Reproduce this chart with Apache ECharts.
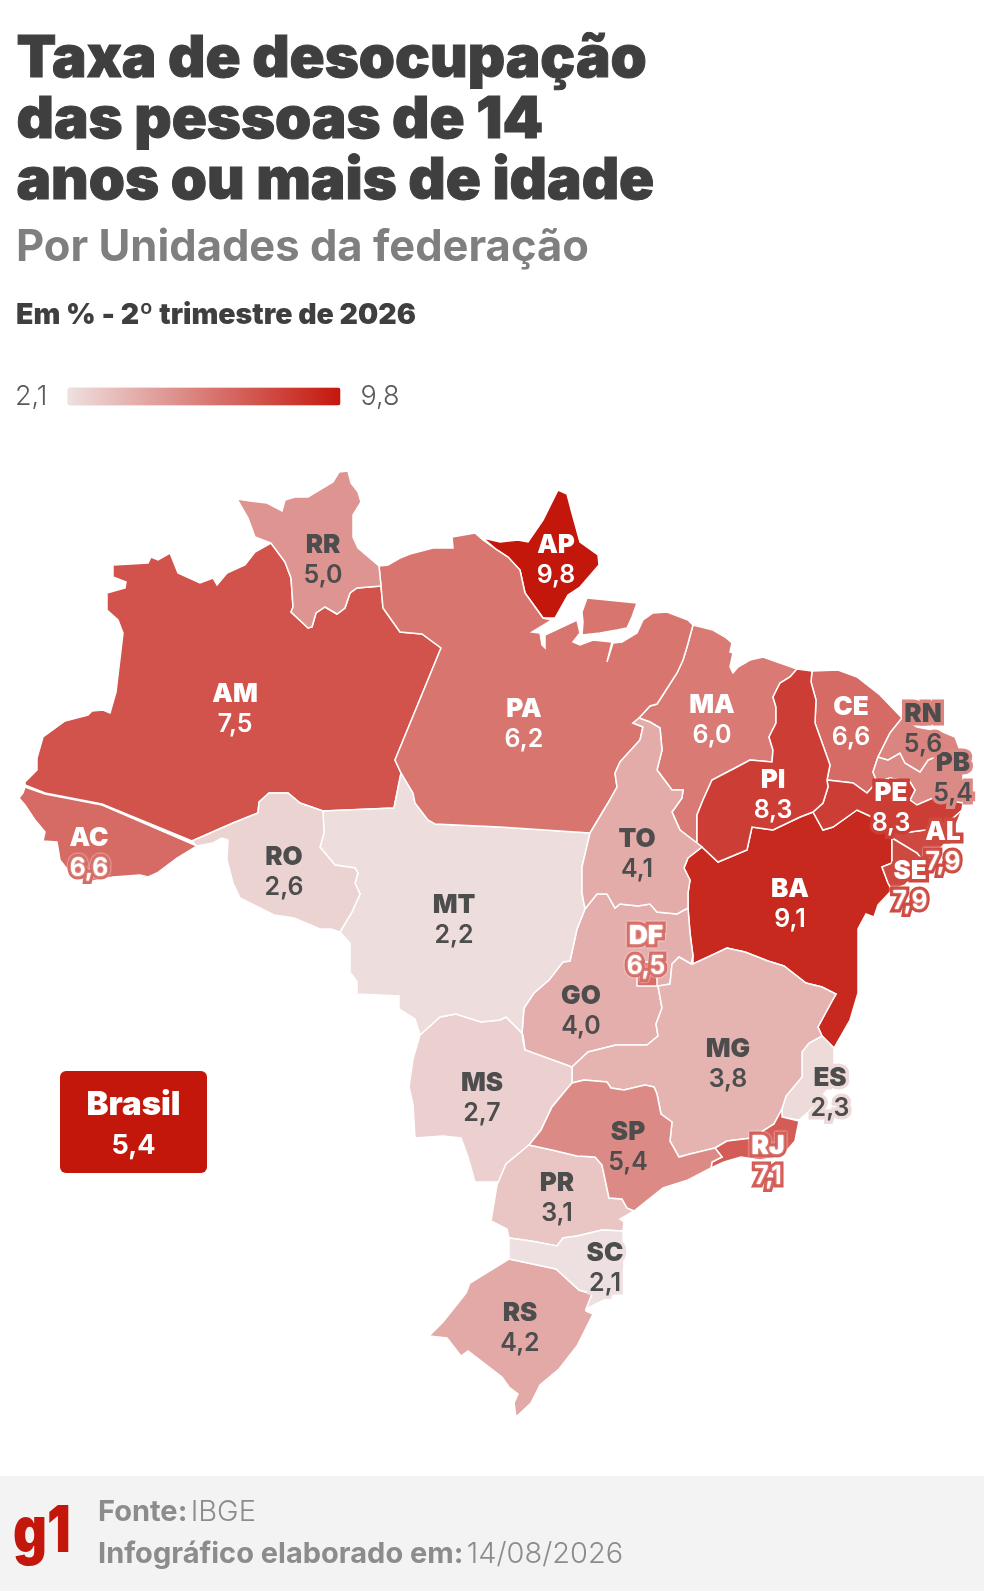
<!DOCTYPE html>
<html>
<head>
<meta charset="utf-8">
<title>Taxa de desocupação</title>
<script src="https://cdn.jsdelivr.net/npm/echarts@6/dist/echarts.min.js"></script>
<style>
html, body { margin: 0; padding: 0; background: #fff; }
#chart { width: 984px; height: 1591px; }
</style>
</head>
<body>
<div id="chart"></div>
<script>
var ufCodes = ['AC','AL','AM','AP','BA','CE','ES','GO','DF','MA','MG','MS','MT','PA','PB','PE','PI','PR','RJ','RN','RO','RR','RS','SC','SE','SP','TO'];
var ufValues = [6.6,7.9,7.5,9.8,9.1,6.6,2.3,4.0,6.5,6.0,3.8,2.7,2.2,6.2,5.4,8.3,8.3,3.1,7.1,5.6,2.6,5.0,4.2,2.1,7.9,5.4,4.1];
var haloUfs = ['AL','DF','ES','PB','PE','RJ','RN','SC','SE'];
var rimUfs = ['DF','RJ'];
var rimValueUfs = ['AC','AL','SE'];
var scaleMin = 2.1;
var scaleMax = 9.8;
var brasilValue = 5.4;
var lowColor = [238, 224, 224];
var highColor = [196, 23, 12];
var FONT = 'Inter';

// state outlines, in page pixels
var ufShapes = {
  RR: [[[237,499],[250,501],[267,503],[282,511],[285,500],[295,497],[308,497],[333,482],[339,472],[348,471],[351,483],[358,492],[361,502],[353,515],[353,537],[358,548],[379,566],[381,586],[357,588],[350,593],[345,608],[337,614],[325,607],[316,613],[312,627],[308,628],[291,612],[293,607],[291,578],[285,562],[271,543],[255,537],[248,518]]],
  AM: [[[271,543],[285,562],[291,578],[293,607],[291,612],[308,628],[312,627],[316,613],[325,607],[337,614],[345,608],[350,593],[357,588],[381,586],[383,608],[400,632],[422,634],[441,648],[395,760],[401,773],[394,808],[323,811],[300,803],[288,793],[269,793],[259,802],[258,813],[233,823],[192,841],[102,804],[45,793],[25,785],[25,782],[37,770],[37,758],[43,737],[65,721],[88,715],[92,711],[103,710],[110,713],[116,692],[123,633],[118,620],[107,610],[107,593],[125,588],[126,582],[113,577],[113,565],[148,563],[151,557],[158,560],[170,553],[178,573],[200,583],[213,578],[217,585],[227,573],[245,565],[255,552]]],
  AC: [[[25,787],[45,794],[102,805],[197,846],[177,858],[157,873],[148,877],[140,875],[113,877],[88,882],[70,873],[60,860],[57,842],[43,841],[45,832],[35,820],[25,805],[19,798],[23,793]]],
  RO: [[[192,841],[233,823],[258,813],[259,802],[269,793],[288,793],[300,803],[323,811],[324,833],[320,847],[335,865],[355,868],[358,873],[355,883],[360,894],[352,912],[340,932],[331,929],[320,929],[294,918],[274,915],[240,898],[233,883],[227,860],[228,840],[222,838],[213,843],[197,846]]],
  MT: [[[323,811],[394,808],[401,773],[413,793],[415,803],[428,820],[435,824],[500,827],[590,833],[582,867],[582,893],[585,909],[577,929],[570,961],[563,962],[549,980],[534,993],[524,1008],[522,1033],[506,1017],[500,1020],[481,1022],[456,1014],[440,1017],[420,1035],[415,1019],[399,1009],[399,996],[357,994],[357,982],[350,972],[350,943],[340,932],[352,912],[360,894],[355,883],[358,873],[355,868],[335,865],[320,847],[324,833]]],
  PA: [
    [[379,566],[381,586],[383,608],[400,632],[422,634],[441,648],[395,760],[401,773],[413,793],[415,803],[428,820],[435,824],[500,827],[590,833],[608,803],[617,787],[615,773],[620,762],[640,740],[643,727],[633,723],[639,718],[650,706],[657,704],[677,673],[683,660],[687,647],[693,625],[688,620],[667,612],[653,613],[643,620],[637,633],[622,642],[613,643],[607,662],[612,642],[593,640],[580,645],[573,642],[580,633],[577,620],[560,628],[545,635],[545,648],[542,645],[540,633],[532,632],[552,620],[543,618],[525,593],[520,570],[508,557],[497,550],[483,540],[475,533],[452,537],[453,548],[433,548],[410,554],[400,558],[388,565]],
    [[587,598],[637,603],[632,617],[627,628],[617,630],[600,633],[582,635],[583,622],[582,612]]
  ],
  AP: [[[483,538],[500,542],[518,540],[528,542],[543,520],[558,490],[567,494],[572,513],[580,542],[598,555],[599,565],[580,587],[568,595],[555,618],[543,618],[525,593],[520,570],[508,557],[497,550]]],
  MA: [[[693,625],[713,630],[725,637],[732,643],[730,652],[733,653],[730,667],[733,673],[738,667],[750,660],[763,657],[780,663],[797,669],[790,677],[780,683],[773,697],[776,707],[776,723],[769,737],[773,750],[772,762],[750,760],[737,767],[712,780],[703,800],[697,815],[697,843],[680,830],[672,812],[682,798],[683,790],[672,790],[657,770],[662,750],[660,728],[650,722],[639,718],[650,706],[657,704],[677,673],[683,660],[687,647]]],
  TO: [[[633,723],[639,718],[650,722],[660,728],[662,750],[657,770],[672,790],[683,790],[682,798],[672,812],[680,830],[697,843],[702,847],[688,858],[684,868],[690,880],[688,893],[688,908],[677,914],[657,912],[650,904],[638,906],[620,904],[615,908],[607,894],[597,894],[585,909],[582,893],[582,867],[590,833],[608,803],[617,787],[615,773],[620,762],[640,740],[643,727]]],
  GO: [[[585,909],[597,894],[607,894],[615,908],[620,904],[638,906],[650,904],[657,912],[677,914],[688,908],[690,933],[693,956],[691,964],[686,961],[679,957],[672,964],[670,984],[658,986],[662,1008],[656,1024],[658,1036],[647,1045],[616,1045],[588,1052],[572,1067],[525,1050],[523,1035],[522,1033],[524,1008],[534,993],[549,980],[563,962],[570,961],[577,929]]],
  DF: [[[637,962],[657,962],[657,986],[637,986]]],
  BA: [[[702,847],[718,862],[747,850],[752,827],[773,830],[800,817],[813,812],[823,830],[833,827],[857,810],[872,817],[885,828],[892,838],[892,863],[882,867],[888,883],[892,890],[878,905],[874,917],[866,914],[858,929],[858,993],[850,1020],[834,1048],[822,1036],[818,1027],[831,1003],[836,994],[822,987],[806,983],[784,966],[768,961],[745,952],[727,948],[693,964],[693,956],[690,933],[688,908],[688,893],[690,880],[684,868],[688,858]]],
  MG: [[[691,964],[693,964],[727,948],[745,952],[768,961],[784,966],[806,983],[822,987],[836,994],[831,1003],[818,1027],[822,1036],[809,1043],[802,1052],[802,1077],[786,1096],[782,1109],[774,1124],[752,1138],[727,1141],[715,1148],[690,1154],[679,1157],[670,1141],[672,1122],[661,1114],[657,1094],[654,1087],[645,1085],[624,1090],[611,1088],[607,1082],[584,1080],[572,1083],[572,1067],[588,1052],[616,1045],[647,1045],[658,1036],[656,1024],[662,1008],[658,986],[670,984],[672,964],[679,957],[686,961]]],
  ES: [[[809,1043],[822,1036],[834,1048],[834,1069],[827,1090],[815,1106],[799,1120],[782,1117],[782,1109],[786,1096],[802,1077],[802,1052]]],
  RJ: [[[715,1148],[727,1141],[752,1138],[774,1124],[782,1109],[782,1117],[799,1121],[795,1141],[782,1156],[760,1160],[741,1157],[724,1162],[711,1168],[712,1162],[722,1157]]],
  SP: [[[572,1083],[584,1080],[607,1082],[611,1088],[624,1090],[645,1085],[654,1087],[657,1094],[661,1114],[672,1122],[670,1141],[679,1157],[690,1154],[715,1148],[722,1157],[712,1162],[711,1168],[688,1180],[663,1188],[634,1211],[627,1208],[622,1199],[609,1198],[602,1165],[595,1157],[577,1156],[552,1150],[529,1145],[541,1130],[552,1107],[566,1090]]],
  MS: [[[420,1035],[440,1017],[456,1014],[481,1022],[500,1020],[506,1017],[522,1033],[523,1041],[525,1050],[572,1067],[572,1083],[566,1090],[552,1107],[541,1130],[529,1145],[506,1164],[499,1182],[475,1182],[468,1157],[461,1138],[443,1136],[415,1138],[413,1104],[409,1087],[413,1059]]],
  PR: [[[529,1145],[552,1150],[577,1156],[595,1157],[602,1165],[609,1198],[622,1199],[627,1208],[634,1211],[620,1219],[624,1222],[623,1231],[602,1230],[577,1236],[563,1238],[557,1246],[531,1241],[509,1238],[507,1229],[491,1221],[497,1185],[506,1164]]],
  SC: [[[509,1238],[531,1241],[557,1246],[563,1238],[577,1236],[602,1230],[623,1231],[624,1266],[618,1293],[586,1309],[592,1294],[579,1290],[556,1269],[509,1259]]],
  RS: [[[509,1259],[556,1269],[579,1290],[592,1294],[586,1311],[593,1314],[577,1346],[559,1369],[540,1385],[531,1403],[516,1417],[514,1403],[518,1394],[509,1387],[502,1377],[468,1351],[461,1356],[447,1338],[429,1336],[443,1322],[466,1293],[470,1283]]],
  PI: [[[797,669],[812,671],[811,682],[816,700],[815,723],[830,765],[827,780],[828,787],[823,803],[813,812],[800,817],[773,830],[752,827],[747,850],[718,862],[702,847],[697,843],[697,815],[703,800],[712,780],[737,767],[750,760],[772,762],[773,750],[769,737],[776,723],[776,707],[773,697],[780,683],[790,677]]],
  CE: [[[812,671],[838,670],[857,677],[880,695],[902,718],[890,733],[878,757],[873,772],[877,782],[867,793],[853,783],[827,780],[830,765],[815,723],[816,700],[811,682]]],
  RN: [[[902,718],[917,727],[943,732],[955,737],[961,753],[940,755],[928,760],[920,772],[905,763],[900,753],[888,760],[878,757],[890,733]]],
  PB: [[[878,757],[888,760],[900,753],[905,763],[920,772],[928,760],[940,755],[961,753],[963,775],[963,803],[933,798],[917,805],[910,800],[915,790],[910,782],[890,778],[877,782],[873,772]]],
  PE: [[[827,780],[853,783],[867,793],[877,782],[890,778],[910,782],[915,790],[910,800],[917,805],[933,798],[963,803],[962,810],[945,825],[925,830],[910,832],[885,828],[872,817],[857,810],[833,827],[823,830],[813,812],[823,803],[828,787]]],
  AL: [[[885,828],[910,832],[925,830],[945,825],[962,810],[952,835],[935,855],[925,863],[917,853],[892,838]]],
  SE: [[[892,838],[917,853],[925,863],[905,885],[892,890],[888,883],[882,867],[892,863]]]
};

// where each state's label sits
var ufLabelPoints = {
  AC:[89,853],AL:[943,847],AM:[235,709],AP:[556,560],BA:[790,904],CE:[851,722],DF:[646,951],ES:[830,1093],GO:[581,1011],
  MA:[712,720],MG:[728,1064],MS:[482,1098],MT:[454,920],PA:[524,724],PB:[953,778],PE:[891,808],PI:[773,795],PR:[557,1198],
  RJ:[768,1161],RN:[923,729],RO:[284,872],RR:[323,560],RS:[520,1328],SC:[605,1268],SE:[910,886],SP:[628,1147],TO:[637,854]
};

function decimalComma(v) { return v.toFixed(1).replace('.', ','); }

function colorFor(v) {
  var t = (v - scaleMin) / (scaleMax - scaleMin);
  var c = lowColor.map(function (l, i) { return Math.round(l + (highColor[i] - l) * t); });
  return 'rgb(' + c.join(',') + ')';
}

var features = ufCodes.map(function (code) {
  return {
    type: 'Feature',
    properties: { name: code, cp: ufLabelPoints[code] },
    geometry: { type: 'MultiPolygon', coordinates: ufShapes[code].map(function (ring) { return [ring.concat([ring[0]])]; }) }
  };
});
echarts.registerMap('brasil', { type: 'FeatureCollection', features: features });

var xs = [], ys = [];
ufCodes.forEach(function (code) {
  ufShapes[code].forEach(function (ring) {
    ring.forEach(function (p) { xs.push(p[0]); ys.push(p[1]); });
  });
});
var minX = Math.min.apply(null, xs), maxX = Math.max.apply(null, xs);
var minY = Math.min.apply(null, ys), maxY = Math.max.apply(null, ys);

var mapData = ufCodes.map(function (code, i) {
  var v = ufValues[i];
  var ink = v >= 5.9 ? '#ffffff' : '#4d4d4d';
  var outline = {};
  if (haloUfs.indexOf(code) >= 0 || rimValueUfs.indexOf(code) >= 0) {
    outline = { textBorderColor: colorFor(v), textBorderWidth: 7 };
  }
  var rim = { textShadowColor: '#ffffff', textShadowBlur: 2 };
  var nameRim = rimUfs.indexOf(code) >= 0 ? rim : {};
  var valueRim = rimUfs.indexOf(code) >= 0 || rimValueUfs.indexOf(code) >= 0 ? rim : {};
  return {
    name: code,
    value: v,
    label: {
      rich: {
        n: Object.assign({ fontFamily: FONT, fontWeight: 900, fontSize: 26, lineHeight: 30, color: ink }, outline, nameRim),
        v: Object.assign({ fontFamily: FONT, fontWeight: 600, fontSize: 25, lineHeight: 30, color: ink }, outline, valueRim)
      }
    }
  };
});

var chart = echarts.init(document.getElementById('chart'));

var option = {
  animation: false,
  backgroundColor: '#ffffff',
  visualMap: {
    type: 'continuous',
    min: scaleMin,
    max: scaleMax,
    orient: 'horizontal',
    left: 0,
    top: 368,
    itemWidth: 18,
    itemHeight: 273,
    textGap: 20,
    text: [decimalComma(scaleMax), decimalComma(scaleMin)],
    textStyle: { fontFamily: FONT, fontSize: 27, fontWeight: 300, color: '#5a5a5a' },
    calculable: false,
    realtime: false,
    hoverLink: false,
    inRange: { color: [colorFor(scaleMin), colorFor(scaleMax)] }
  },
  series: [{
    type: 'map',
    map: 'brasil',
    projection: {
      project: function (p) { return p; },
      unproject: function (p) { return p; }
    },
    left: minX,
    top: minY,
    width: maxX - minX,
    height: maxY - minY,
    roam: false,
    silent: true,
    selectedMode: false,
    itemStyle: { borderColor: '#ffffff', borderWidth: 1.5 },
    label: {
      show: true,
      formatter: function (p) { return '{n|' + p.name + '}\n{v|' + decimalComma(p.value) + '}'; }
    },
    data: mapData
  }],
  graphic: [
    { type: 'text', left: 16, top: 29, style: { text: 'Taxa de desocupação\ndas pessoas de 14\nanos ou mais de idade', fontFamily: FONT, fontWeight: 900, fontSize: 58, lineHeight: 61, fill: '#3f3f3f', stroke: '#3f3f3f', lineWidth: 1 } },
    { type: 'text', left: 16, top: 226, style: { text: 'Por Unidades da federação', fontFamily: FONT, fontWeight: 700, fontSize: 43.5, fill: '#7f7f7f' } },
    { type: 'text', left: 16, top: 301, style: { text: 'Em % - 2º trimestre de 2026', fontFamily: FONT, fontWeight: 900, fontSize: 28.5, fill: '#3f3f3f' } },
    { type: 'rect', shape: { x: 60, y: 1071, width: 147, height: 102, r: 6 }, style: { fill: '#c4170c' } },
    { type: 'text', x: 133.5, y: 1105, style: { text: 'Brasil', align: 'center', verticalAlign: 'middle', fontFamily: FONT, fontWeight: 900, fontSize: 33, fill: '#ffffff' } },
    { type: 'text', x: 133.5, y: 1146, style: { text: decimalComma(brasilValue), align: 'center', verticalAlign: 'middle', fontFamily: FONT, fontWeight: 700, fontSize: 27, fill: '#ffffff' } },
    { type: 'rect', shape: { x: 0, y: 1476, width: 984, height: 115 }, style: { fill: '#f3f3f3' } },
    { type: 'text', x: 13, y: 1533, scaleX: 0.82, style: { text: 'g1', verticalAlign: 'middle', fontFamily: FONT, fontWeight: 900, fontSize: 64, fill: '#c4170c' } },
    { type: 'text', x: 98, y: 1512, style: {
      text: '{b|Fonte:} {r|IBGE}', verticalAlign: 'middle',
      rich: { b: { fontFamily: FONT, fontWeight: 700, fontSize: 29, fill: '#8c8c8c' }, r: { fontFamily: FONT, fontWeight: 300, fontSize: 29, fill: '#8c8c8c' } }
    } },
    { type: 'text', x: 98, y: 1554, style: {
      text: '{b|Infográfico elaborado em:} {r|14/08/2026}', verticalAlign: 'middle',
      rich: { b: { fontFamily: FONT, fontWeight: 700, fontSize: 29, fill: '#8c8c8c' }, r: { fontFamily: FONT, fontWeight: 300, fontSize: 29, fill: '#8c8c8c' } }
    } }
  ]
};
chart.setOption(option);
</script>
</body>
</html>
